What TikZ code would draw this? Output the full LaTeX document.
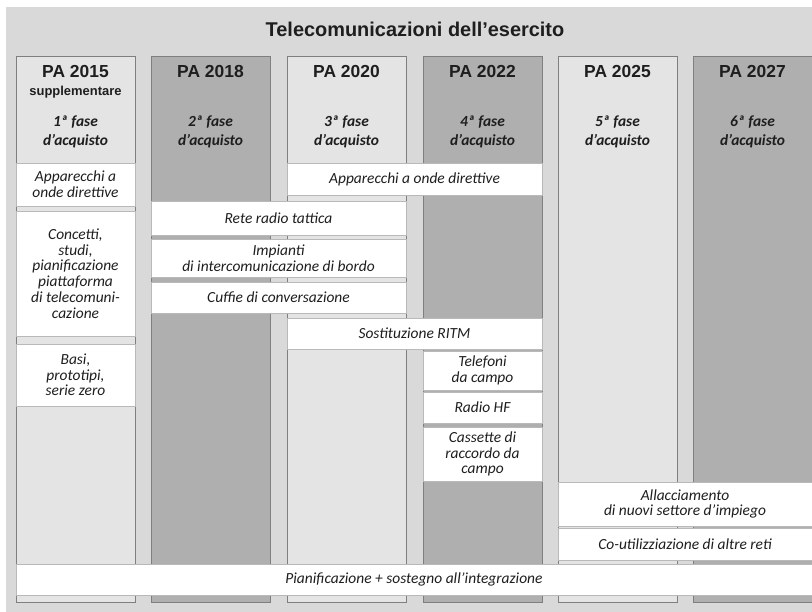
\documentclass[tikz,border=0pt]{standalone}
\usepackage{fontspec}
\setmainfont{Carlito}
\newfontfamily\headfont{Liberation Sans}
\definecolor{bgc}{HTML}{D9D9D9}
\definecolor{lightc}{HTML}{E4E4E4}
\definecolor{darkc}{HTML}{AFAFAF}
\definecolor{edgec}{HTML}{7F7F7F}
\definecolor{txtc}{HTML}{1E1E1E}
\begin{document}
\begin{tikzpicture}[x=1bp,y=-1bp,
  col/.style={draw=edgec, line width=0.8pt, inner sep=0pt, minimum width=119bp, minimum height=546bp},
  lightcol/.style={col, fill=lightc},
  darkcol/.style={col, fill=darkc},
  item/.style={draw=gray!55, fill=white, line width=0.6pt, inner sep=0pt, align=center, text=txtc,
    font=\itshape\fontsize{15.5}{15.8}\selectfont},
  pa/.style={font=\headfont\bfseries\fontsize{17.5}{19}\selectfont, text=txtc, inner sep=0pt},
  sub/.style={font=\headfont\bfseries\fontsize{13}{14}\selectfont, text=txtc, inner sep=0pt},
  fase/.style={font=\bfseries\itshape\fontsize{15.5}{19}\selectfont, align=center, text=txtc, inner sep=0pt},
  ttl/.style={font=\headfont\bfseries\fontsize{20}{22}\selectfont, text=txtc, inner sep=0pt}
]
\useasboundingbox (0,0) rectangle (812,612);
\fill[bgc] (6,7) rectangle (812,612);
\node[ttl] (title) at (415,29) {Telecomunicazioni dell’esercito};
% columns
\node[lightcol] (col1) at (75.5,329) {};
\node[darkcol]  (col2) at (210.5,329) {};
\node[lightcol] (col3) at (346.5,329) {};
\node[darkcol]  (col4) at (482.5,329) {};
\node[lightcol] (col5) at (617.5,329) {};
\node[darkcol]  (col6) at (752.5,329) {};
% headers
\node[pa] (h1) at (75.5,72) {PA 2015};
\node[sub] (h1s) at (75.5,92) {supplementare};
\node[pa] (h2) at (210.5,72) {PA 2018};
\node[pa] (h3) at (346.5,72) {PA 2020};
\node[pa] (h4) at (482.5,72) {PA 2022};
\node[pa] (h5) at (617.5,72) {PA 2025};
\node[pa] (h6) at (752.5,72) {PA 2027};
\node[fase] (f1) at (75.5,131.5) {1ª fase\\d’acquisto};
\node[fase] (f2) at (210.5,131.5) {2ª fase\\d’acquisto};
\node[fase] (f3) at (346.5,131.5) {3ª fase\\d’acquisto};
\node[fase] (f4) at (482.5,131.5) {4ª fase\\d’acquisto};
\node[fase] (f5) at (617.5,131.5) {5ª fase\\d’acquisto};
\node[fase] (f6) at (752.5,131.5) {6ª fase\\d’acquisto};
% items
\node[item, minimum width=119bp, minimum height=43bp] (a1) at (75.5,184.5) {Apparecchi a\\onde direttive};
\node[item, minimum width=119bp, minimum height=125bp] (a2) at (75.5,273.5) {Concetti,\\studi,\\pianificazione\\piattaforma\\di telecomuni-\\cazione};
\node[item, minimum width=119bp, minimum height=62bp] (a3) at (75.5,375) {Basi,\\prototipi,\\serie zero};
\node[item, minimum width=255bp, minimum height=32bp] (b1) at (414.5,179) {Apparecchi a onde direttive};
\node[item, minimum width=255bp, minimum height=34bp] (c1) at (278.5,218) {Rete radio tattica};
\node[item, minimum width=255bp, minimum height=38bp] (c2) at (278.5,258) {Impianti\\di intercomunicazione di bordo};
\node[item, minimum width=255bp, minimum height=31bp] (c3) at (278.5,297.5) {Cuffie di conversazione};
\node[item, minimum width=255bp, minimum height=31bp] (d1) at (414.5,333.5) {Sostituzione RITM};
\node[item, minimum width=119bp, minimum height=39bp] (e1) at (482.5,370.5) {Telefoni\\da campo};
\node[item, minimum width=119bp, minimum height=31bp] (e2) at (482.5,407.5) {Radio HF};
\node[item, minimum width=119bp, minimum height=54bp] (e3) at (482.5,454) {Cassette di\\raccordo da\\campo};
\node[item, minimum width=254bp, minimum height=44bp] (g1) at (685,504) {Allacciamento\\di nuovi settore d’impiego};
\node[item, minimum width=254bp, minimum height=32bp] (g2) at (685,544) {Co-utilizziazione di altre reti};
\node[item, minimum width=796bp, minimum height=31bp] (p1) at (414,579.5) {Pianificazione + sostegno all’integrazione};
\end{tikzpicture}
\end{document}
